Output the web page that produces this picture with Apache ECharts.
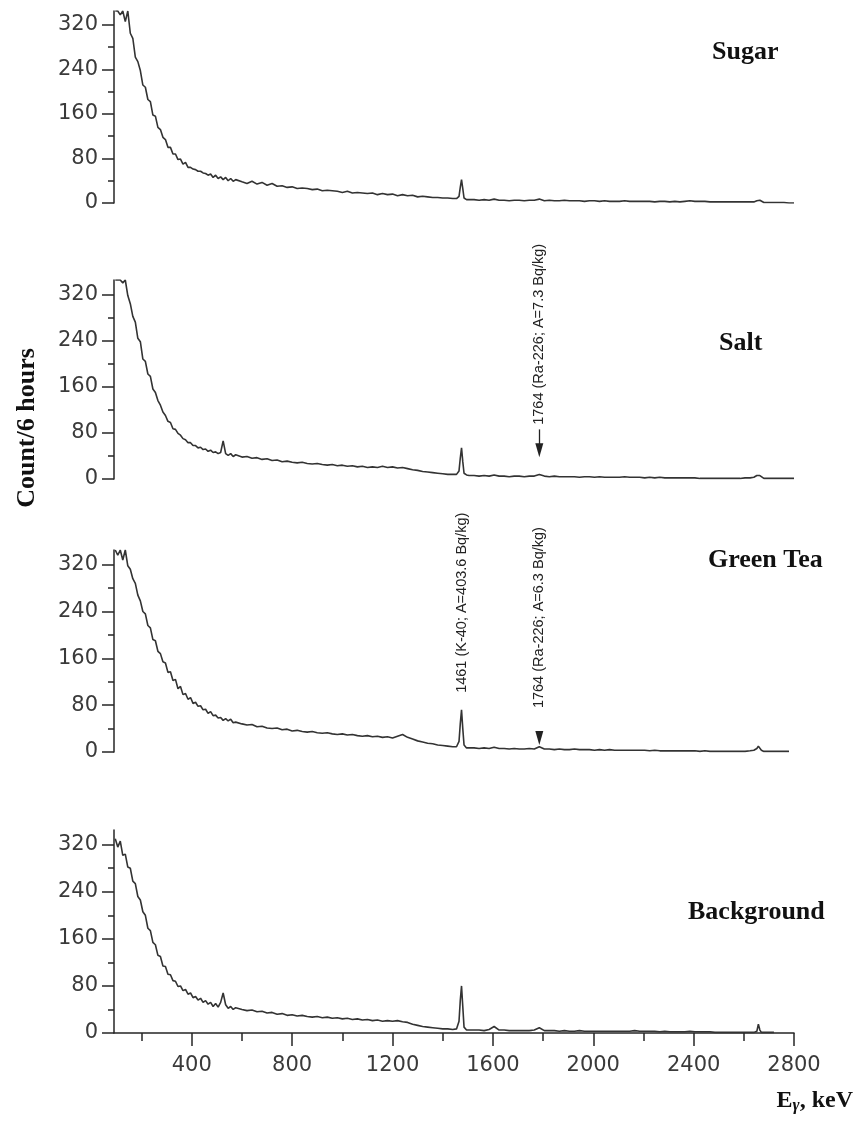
<!DOCTYPE html>
<html><head><meta charset="utf-8">
<script src="https://cdn.jsdelivr.net/npm/echarts@6/dist/echarts.min.js"></script>
<style>html,body{margin:0;padding:0;background:#fff}#c{width:859px;height:1121px}</style>
</head><body><div id="c"></div>
<script>
// Energy grid (keV)
const energy = [
 95,105,115,125,135,145,155,165,175,185,195,205,215,225,235,245,255,265,275,285,295,305,315,325,335,345,355,365,375,385,395,405,415,425,435,445,455,465,475,485,495,505,515,525,535,545,555,565,575,
 600,620,640,660,680,700,720,740,760,780,800,820,840,860,880,900,920,940,960,980,1000,1020,1040,1060,1080,1100,1120,1140,1160,1180,1200,1220,1240,1260,1280,1300,1320,1340,1360,1380,1400,1420,1440,
 1455,1465,1470,1475,1480,1485,1495,1505,
 1525,1545,1565,1585,1605,1625,1645,1665,1685,1705,1725,1745,1765,1785,1805,1825,1845,1865,1885,1905,1925,1945,1965,1985,2005,2025,2045,2065,2085,2105,2125,2145,2165,2185,2205,2225,2245,2265,2285,2305,2325,2345,2365,2385,2405,2425,2445,2465,2485,2505,2525,2545,2565,2585,2605,2625,
 2640,2652,2658,2664,2670,2680,
 2700,2720,2740,2760,2780,2800
];
const sugar = [
 345,345,338,345,326,345,305,296,262,254,238,212,208,186,182,158,156,136,132,118,
 114,100,100,88,88,78,79,70,73,64,64,61,60,57,57,54,53,50,52,46,50,44,47,42,46,40,44,39,42,
 38,35,39,34,37,32,35,30,31,28,29,26,27,26,24,25,22,23,22,21,19,21,18,19,18,17,18,15,17,15,16,13,15,13,14,11,12,11,10,10,9,9,8,
 8,12,28,42,26,9,6,6,
 6,5,6,5,7,5,5,4,5,5,4,5,5,7,4,5,4,4,5,4,4,4,3,4,4,3,4,3,3,3,4,3,3,3,3,3,2,3,3,2,3,2,3,4,3,3,3,2,2,2,2,2,2,2,2,2,
 2,4,7,5,2,1,
 1,1,1,1,0,0
];
const salt = [
 345,345,345,340,345,318,304,282,272,244,238,208,204,182,178,156,150,136,128,116,
 110,100,98,87,86,79,76,70,68,63,63,58,58,54,55,51,52,48,50,46,47,44,46,66,44,41,44,39,42,
 38,39,36,37,34,35,32,33,30,31,29,28,29,27,26,27,25,24,25,23,24,22,23,21,22,20,21,20,22,20,21,19,20,18,16,15,13,12,11,10,9,8,8,
 8,14,36,54,30,10,7,6,
 6,5,6,5,7,5,5,4,5,5,4,5,5,8,5,4,5,4,4,4,4,3,4,4,3,4,3,3,3,3,4,3,3,3,2,3,2,3,2,2,2,2,2,2,2,1,1,1,1,1,1,1,1,1,2,2,
 3,6,9,6,3,1,
 1,1,1,1,1,1
];
const greenTea = [
 345,336,345,328,345,318,312,296,288,268,258,240,236,216,212,192,190,172,168,154,
 152,136,137,122,124,108,112,98,100,90,93,83,85,78,79,72,73,66,69,62,63,58,59,54,57,53,56,50,51,
 48,46,47,43,44,41,40,41,38,39,36,37,35,34,35,33,32,33,31,30,31,29,30,28,27,28,26,27,25,26,24,27,30,25,22,19,17,15,14,12,11,10,9,
 9,18,48,72,40,12,7,7,
 7,6,7,6,8,6,6,5,6,5,5,6,5,9,5,5,4,5,4,4,5,4,4,4,3,4,3,4,3,3,3,3,3,3,3,2,3,2,2,2,2,2,2,2,2,1,2,1,1,1,1,1,1,1,1,2,
 3,6,10,7,3,1,
 1,1,1,1,1,null
];
const background = [
 330,316,326,302,304,282,280,258,254,232,226,206,200,178,174,154,150,132,130,114,
 113,100,99,89,88,79,80,72,74,66,68,60,62,56,59,52,55,49,52,45,50,44,52,68,48,42,45,40,43,
 40,38,39,36,37,34,35,32,33,30,31,29,30,28,27,28,26,27,25,26,24,25,23,24,22,23,21,22,20,21,20,21,19,18,15,13,11,10,9,8,7,7,6,
 7,20,55,80,45,10,5,5,
 5,5,4,6,11,5,5,4,4,4,4,4,5,9,4,4,4,3,4,3,3,4,3,3,3,3,3,3,3,3,3,3,4,3,3,3,3,2,3,2,2,2,2,3,2,2,2,2,1,1,1,1,1,1,1,1,
 1,3,15,5,1,1,
 1,1,null,null,null,null
];
const panelNames = ['Sugar', 'Salt', 'Green Tea', 'Background'];
const yMajorTicks = [0, 80, 160, 240, 320];
const yMinorTicks = [40, 120, 200, 280];
const xMajorTicks = [400, 800, 1200, 1600, 2000, 2400, 2800];
const xMinorTicks = [200, 600, 1000, 1400, 1800, 2200, 2600];
const peakK40 = 1475, peakRa = 1785;
const annSaltRa = '1764 (Ra-226; A=7.3 Bq/kg)';
const annTeaK = '1461 (K-40; A=403.6 Bq/kg)';
const annTeaRa = '1764 (Ra-226; A=6.3 Bq/kg)';
const yTitle = 'Count/6 hours';

const series4 = [sugar, salt, greenTea, background];
const ink = '#262626';
const plain = (v) => String(v);
const grids = [
  {left: 114, top: 11, width: 680, height: 192},
  {left: 114, top: 280, width: 680, height: 199},
  {left: 114, top: 550, width: 680, height: 202},
  {left: 114, top: 830, width: 680, height: 203}
];
const XMIN = 90, XMAX = 2800, YMAX = 345;
const xAxes = [];
for (let i = 0; i < 3; i++) xAxes.push({type: 'value', gridIndex: i, min: XMIN, max: XMAX, show: false});
xAxes.push({type: 'value', gridIndex: 3, min: XMIN, max: XMAX, position: 'bottom',
  axisLine: {show: true, onZero: false, lineStyle: {color: ink, width: 1.5}},
  axisTick: {show: true, customValues: xMajorTicks, length: 13, lineStyle: {color: ink, width: 1.5}},
  axisLabel: {show: true, customValues: xMajorTicks, formatter: plain, margin: 22, fontSize: 21, fontFamily: 'DejaVu Sans', color: '#3a3a3a'},
  splitLine: {show: false}});
xAxes.push({type: 'value', gridIndex: 3, min: XMIN, max: XMAX, position: 'bottom',
  axisLine: {show: false},
  axisTick: {show: true, customValues: xMinorTicks, length: 8, lineStyle: {color: ink, width: 1.5}},
  axisLabel: {show: false}, splitLine: {show: false}});
const yAxes = [];
for (let i = 0; i < 4; i++) {
  yAxes.push({type: 'value', gridIndex: i, min: 0, max: YMAX, position: 'left',
    axisLine: {show: true, onZero: false, lineStyle: {color: ink, width: 1.5}},
    axisTick: {show: true, customValues: yMajorTicks, length: 12, lineStyle: {color: ink, width: 1.5}},
    axisLabel: {show: true, customValues: yMajorTicks, formatter: plain, margin: 16, fontSize: 21, fontFamily: 'DejaVu Sans', color: '#3a3a3a'},
    splitLine: {show: false}});
  yAxes.push({type: 'value', gridIndex: i, min: 0, max: YMAX, position: 'left',
    axisLine: {show: false},
    axisTick: {show: true, customValues: yMinorTicks, length: 6, lineStyle: {color: ink, width: 1.5}},
    axisLabel: {show: false}, splitLine: {show: false}});
}
const annLabel = (txt) => ({show: true, position: 'inside', formatter: txt, rotate: 90, align: 'left', verticalAlign: 'middle',
  fontFamily: 'Liberation Sans', fontSize: 14.5, color: '#222'});
const textPt = (x, y, txt) => ({coord: [x, y], symbol: 'circle', symbolSize: 0, itemStyle: {color: 'rgba(0,0,0,0)'}, label: annLabel(txt)});
const arrowHead = (x, y) => ({coord: [x, y], symbol: 'triangle', symbolRotate: 180, symbolSize: [8, 14], itemStyle: {color: '#222'}, label: {show: false}});
const markPts = [
  null,
  [textPt(peakRa, 94, annSaltRa), arrowHead(peakRa, 50)],
  [textPt(peakK40, 101, annTeaK), textPt(peakRa, 75, annTeaRa), arrowHead(peakRa, 24)],
  null
];
const series = series4.map((vals, i) => {
  const s = {type: 'line', name: panelNames[i], xAxisIndex: i, yAxisIndex: 2 * i,
    data: energy.map((e, k) => [e, vals[k]]),
    symbol: 'none', showSymbol: false, connectNulls: false, clip: true,
    lineStyle: {color: '#333', width: 1.6}, animation: false, silent: true};
  if (markPts[i]) s.markPoint = {silent: true, animation: false, data: markPts[i]};
  if (i === 1) s.markLine = {silent: true, animation: false, symbol: ['none', 'none'], label: {show: false},
    lineStyle: {color: '#222', width: 1.3, type: 'solid'}, data: [[{coord: [peakRa, 86]}, {coord: [peakRa, 56]}]]};
  return s;
});
const titleStyle = (fs) => ({fontFamily: 'Liberation Serif', fontWeight: 'bold', fontSize: fs, color: '#111'});
const titlePos = [[712, 39], [719, 330], [708, 547], [688, 899]];
const titles = panelNames.map((n, i) => ({text: n, left: titlePos[i][0], top: titlePos[i][1], padding: 0, textStyle: titleStyle(26)}));
titles.push({text: '{e|E}{g|γ}{e|, keV}', right: 6, top: 1086, padding: 0,
  textStyle: {rich: {
    e: {fontFamily: 'Liberation Serif', fontWeight: 'bold', fontSize: 24, color: '#111', lineHeight: 30},
    g: {fontFamily: 'Liberation Serif', fontStyle: 'italic', fontWeight: 'bold', fontSize: 17, color: '#111', lineHeight: 30, padding: [10, 0, 0, 0]}
  }}});
const chart = echarts.init(document.getElementById('c'), null, {renderer: 'canvas'});
chart.setOption({
  animation: false,
  backgroundColor: '#fff',
  title: titles,
  grid: grids,
  xAxis: xAxes,
  yAxis: yAxes,
  series: series,
  graphic: [{type: 'text', x: 27, y: 428, rotation: Math.PI / 2,
    style: {text: yTitle, font: 'bold 26px "Liberation Serif"', fill: '#111', textAlign: 'center', textVerticalAlign: 'middle'}}]
});
</script></body></html>
